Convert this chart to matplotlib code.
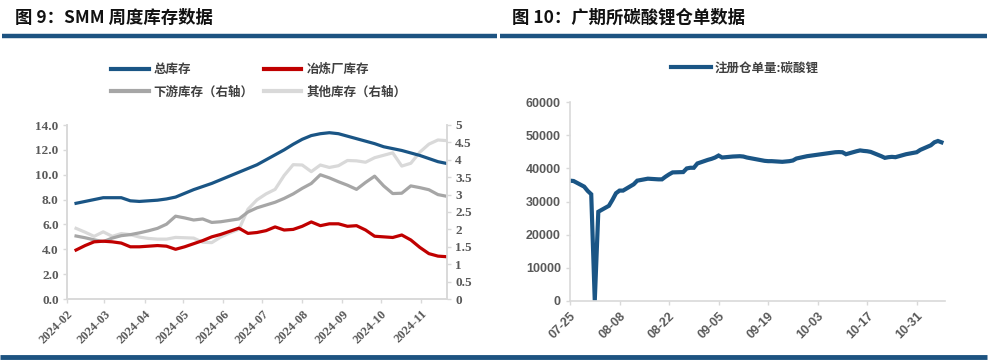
import matplotlib
matplotlib.use("Agg")
import matplotlib.pyplot as plt
import matplotlib.dates as mdates
from matplotlib.lines import Line2D
import pandas as pd

plt.rcParams['font.family'] = ['Noto Sans CJK SC', 'DejaVu Sans']

# ---------------- data: figure 9 (weekly) ----------------
smm_start = "2024-02-08"
smm_periods = 42
total_inv = [7.7, 7.85, 8.0, 8.15, 8.15, 8.15, 7.9, 7.85, 7.9, 7.95,
             8.05, 8.2, 8.5, 8.8, 9.05, 9.3, 9.6, 9.9, 10.2, 10.5,
             10.8, 11.2, 11.6, 12.0, 12.45, 12.85, 13.15, 13.3, 13.38, 13.3,
             13.1, 12.9, 12.7, 12.5, 12.25, 12.1, 11.95, 11.75, 11.55, 11.3,
             11.05, 10.9]
smelter_inv = [3.94, 4.3, 4.6, 4.65, 4.6, 4.5, 4.2, 4.2, 4.25, 4.3,
               4.25, 4.0, 4.2, 4.45, 4.7, 5.0, 5.2, 5.45, 5.7, 5.28,
               5.35, 5.5, 5.8, 5.55, 5.6, 5.85, 6.2, 5.9, 6.05, 6.05,
               5.85, 5.9, 5.55, 5.05, 5.0, 4.95, 5.15, 4.75, 4.15, 3.65,
               3.45, 3.4]
downstream_inv = [1.81, 1.76, 1.7, 1.65, 1.75, 1.82, 1.85, 1.9, 1.96, 2.03,
                  2.15, 2.38, 2.33, 2.27, 2.3, 2.2, 2.22, 2.26, 2.3, 2.5,
                  2.62, 2.7, 2.78, 2.89, 3.02, 3.18, 3.32, 3.57, 3.48, 3.37,
                  3.27, 3.15, 3.35, 3.53, 3.25, 3.03, 3.04, 3.25, 3.2, 3.14,
                  3.0, 2.95]
other_inv = [2.03, 1.92, 1.8, 1.93, 1.8, 1.88, 1.85, 1.78, 1.74, 1.72,
             1.72, 1.77, 1.76, 1.75, 1.63, 1.62, 1.78, 1.9, 2.0, 2.58,
             2.85, 3.02, 3.15, 3.55, 3.86, 3.85, 3.66, 3.85, 3.78, 3.83,
             3.98, 3.97, 3.93, 4.06, 4.13, 4.2, 3.82, 3.9, 4.22, 4.45,
             4.57, 4.55]
smm_labels = ["总库存", "冶炼厂库存", "下游库存（右轴）", "其他库存（右轴）"]

# ---------------- data: figure 10 (daily) ----------------
gfex_dates = ["2024-07-25", "2024-07-26", "2024-07-29", "2024-07-30", "2024-07-31",
              "2024-08-01", "2024-08-02", "2024-08-05", "2024-08-06", "2024-08-07",
              "2024-08-08", "2024-08-09", "2024-08-12", "2024-08-13", "2024-08-14",
              "2024-08-15", "2024-08-16", "2024-08-19", "2024-08-20", "2024-08-21",
              "2024-08-22", "2024-08-23", "2024-08-26", "2024-08-27", "2024-08-28",
              "2024-08-29", "2024-08-30", "2024-09-02", "2024-09-03", "2024-09-04",
              "2024-09-05", "2024-09-06", "2024-09-09", "2024-09-10", "2024-09-11",
              "2024-09-12", "2024-09-13", "2024-09-18", "2024-09-19", "2024-09-20",
              "2024-09-23", "2024-09-24", "2024-09-25", "2024-09-26", "2024-09-27",
              "2024-09-30", "2024-10-08", "2024-10-09", "2024-10-10", "2024-10-11",
              "2024-10-14", "2024-10-15", "2024-10-16", "2024-10-17", "2024-10-18",
              "2024-10-21", "2024-10-22", "2024-10-23", "2024-10-24", "2024-10-25",
              "2024-10-28", "2024-10-29", "2024-10-30", "2024-10-31", "2024-11-01",
              "2024-11-04", "2024-11-05", "2024-11-06", "2024-11-07"]
gfex_receipts = [36300, 36200, 34500, 33200, 32200,
                 0, 26900, 28700, 30500, 32500,
                 33300, 33300, 35200, 36300, 36500,
                 36700, 36900, 36700, 36700, 37500,
                 38200, 38800, 38900, 40000, 40200,
                 40200, 41500, 42600, 42900, 43300,
                 43900, 43300, 43600, 43650, 43700,
                 43600, 43300, 42300, 42200, 42200,
                 42000, 42100, 42200, 42400, 43000,
                 43700, 44900, 44950, 44900, 44300,
                 45200, 45450, 45300, 45200, 45000,
                 43700, 43200, 43400, 43500, 43400,
                 44300, 44500, 44700, 44900, 45600,
                 47000, 47900, 48300, 47900]
gfex_label = "注册仓单量:碳酸锂"

# ---------------- styling ----------------
BLUE = "#1a5585"
RED = "#c00000"
DGRAY = "#a6a6a6"
LGRAY = "#d9d9d9"
RULE = "#1d5381"
TICK_C = "#595959"
SPINE_C = "#d9d9d9"
TXT_C = "#404040"

W, H = 1000, 361
fig = plt.figure(figsize=(W / 100, H / 100), dpi=100)


def fx(px):
    return px / W


def fy(py):
    return 1 - py / H


# titles and rules
fig.text(fx(15), fy(18), "图 9：SMM 周度库存数据", fontsize=12.5, weight="bold",
         va="center", ha="left", color="#111111")
fig.text(fx(512), fy(18), "图 10：广期所碳酸锂仓单数据", fontsize=12.5, weight="bold",
         va="center", ha="left", color="#111111")
fig.add_artist(Line2D([fx(2), fx(497)], [fy(36), fy(36)], color=RULE, lw=3.2,
                      transform=fig.transFigure, solid_capstyle="butt"))
fig.add_artist(Line2D([fx(500), fx(987)], [fy(36), fy(36)], color=RULE, lw=3.2,
                      transform=fig.transFigure, solid_capstyle="butt"))
fig.add_artist(Line2D([fx(0), fx(987)], [fy(357), fy(357)], color=RULE, lw=3.5,
                      transform=fig.transFigure, solid_capstyle="butt"))

# ---------------- left chart ----------------
smm_dates = pd.date_range(smm_start, periods=smm_periods, freq="7D")
ax1 = fig.add_axes([fx(67), fy(299), fx(447 - 67), (299 - 125) / H])
ax2 = ax1.twinx()

ax2.plot(smm_dates, other_inv, color=LGRAY, lw=2.3, label=smm_labels[3], zorder=1)
ax2.plot(smm_dates, downstream_inv, color=DGRAY, lw=2.3, label=smm_labels[2], zorder=2)
ax1.set_zorder(ax2.get_zorder() + 1)
ax1.patch.set_visible(False)
ax1.plot(smm_dates, total_inv, color=BLUE, lw=2.3, label=smm_labels[0])
ax1.plot(smm_dates, smelter_inv, color=RED, lw=2.3, label=smm_labels[1])

ax1.set_ylim(0, 14)
ax1.set_yticks([0, 2, 4, 6, 8, 10, 12, 14])
ax1.set_yticklabels([f"{v:.1f}" for v in [0, 2, 4, 6, 8, 10, 12, 14]])
ax2.set_ylim(0, 5)
ax2.set_yticks([0, 0.5, 1, 1.5, 2, 2.5, 3, 3.5, 4, 4.5, 5])
ax2.set_yticklabels(["0", "0.5", "1", "1.5", "2", "2.5", "3", "3.5", "4", "4.5", "5"])
ax1.set_xlim(pd.Timestamp("2024-02-01"), pd.Timestamp("2024-11-21"))
ax1.xaxis.set_major_locator(mdates.MonthLocator())
ax1.xaxis.set_major_formatter(mdates.DateFormatter("%Y-%m"))

serif = "Liberation Serif"
for ax in (ax1, ax2):
    ax.spines["top"].set_visible(False)
    for s in ("left", "right", "bottom"):
        ax.spines[s].set_color(SPINE_C)
        ax.spines[s].set_linewidth(1.2)
    ax.tick_params(axis="both", colors=SPINE_C, length=3, width=1,
                   labelcolor=TICK_C, labelsize=9.5)
for lab in ax1.get_yticklabels() + ax2.get_yticklabels() + ax1.get_xticklabels():
    lab.set_fontfamily(serif)
    lab.set_fontweight("bold")
plt.setp(ax1.get_xticklabels(), rotation=45, ha="right", rotation_mode="anchor",
         fontsize=9)
ax1.tick_params(axis="y", pad=3)
ax2.tick_params(axis="y", pad=3)

h_other = Line2D([], [], color=LGRAY, lw=3)
h_down = Line2D([], [], color=DGRAY, lw=3)
h_tot = Line2D([], [], color=BLUE, lw=3)
h_sm = Line2D([], [], color=RED, lw=3)
fig.legend([h_tot, h_down, h_sm, h_other],
           [smm_labels[0], smm_labels[2], smm_labels[1], smm_labels[3]],
           ncol=2, loc="upper left", bbox_to_anchor=(fx(100), fy(52)), frameon=False,
           prop={"size": 9, "weight": "bold"}, handlelength=3.0, handletextpad=0.4,
           columnspacing=0.8, labelspacing=0.75, labelcolor=TXT_C)

# ---------------- right chart ----------------
g_dates = pd.to_datetime(gfex_dates)
ax3 = fig.add_axes([fx(570), fy(300.7), fx(945 - 570), (300.7 - 102.3) / H])
ax3.plot(g_dates, gfex_receipts, color=BLUE, lw=3, label=gfex_label, solid_joinstyle="miter")
ax3.set_ylim(0, 60000)
ax3.set_yticks(range(0, 60001, 10000))
ax3.set_xlim(pd.Timestamp("2024-07-25"), pd.Timestamp("2024-11-08"))
ax3.set_xticks(pd.date_range("2024-07-25", "2024-10-31", freq="14D"))
ax3.xaxis.set_major_formatter(mdates.DateFormatter("%m-%d"))
for s in ("top", "right"):
    ax3.spines[s].set_visible(False)
for s in ("left", "bottom"):
    ax3.spines[s].set_color(SPINE_C)
    ax3.spines[s].set_linewidth(1.2)
ax3.tick_params(axis="both", colors=SPINE_C, length=3, width=1, labelcolor=TICK_C,
                labelsize=9)
for lab in ax3.get_yticklabels() + ax3.get_xticklabels():
    lab.set_fontfamily("Liberation Sans")
    lab.set_fontweight("bold")
plt.setp(ax3.get_xticklabels(), rotation=45, ha="right", rotation_mode="anchor")
ax3.legend(loc="upper left", bbox_to_anchor=(fx(660), fy(50)),
           bbox_transform=fig.transFigure, frameon=False,
           prop={"size": 9, "weight": "bold"}, handlelength=3.2, handletextpad=0.3,
           labelcolor=TXT_C)

fig.savefig("out.png", dpi=100, facecolor="white")
